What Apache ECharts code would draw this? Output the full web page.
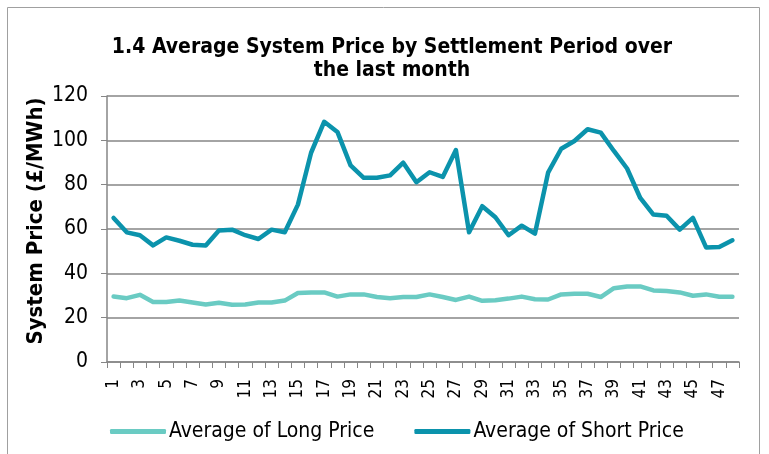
<!DOCTYPE html>
<html><head><meta charset="utf-8">
<script src="https://cdn.jsdelivr.net/npm/echarts@6/dist/echarts.min.js"></script>
<style>html,body{margin:0;padding:0;background:#fff}#c{width:769px;height:454px}</style>
</head><body><div id="c"></div>
<script>
const periods = Array.from({length:48},(_,i)=>String(i+1));
const longPrice = [29.5,28.8,30.3,27.1,27.1,27.7,26.8,25.9,26.7,25.8,25.9,26.8,26.8,27.7,31.1,31.4,31.4,29.5,30.5,30.5,29.3,28.8,29.3,29.3,30.5,29.3,28.0,29.5,27.6,27.9,28.6,29.5,28.3,28.2,30.5,30.8,30.8,29.3,33.3,34.1,34.1,32.3,32.0,31.4,29.9,30.5,29.4,29.4];
const shortPrice = [65,58.5,57.2,52.6,56.2,54.7,52.9,52.6,59.3,59.7,57.2,55.5,59.7,58.5,71,94.4,108.4,103.8,88.7,83.1,83.1,84.2,89.9,81.1,85.6,83.5,95.6,58.5,70.3,65.3,57.2,61.5,57.9,85.4,96.2,99.7,105,103.5,95.2,87.3,74,66.5,66,59.7,65,51.7,51.9,54.9];
const yTicks = {min:0, max:120, interval:20};
const chart = echarts.init(document.getElementById('c'), null, {renderer:'canvas'});
const font = 'Tahoma, "DejaVu Sans Condensed", "DejaVu Sans", sans-serif';
chart.setOption({
  animation:false,
  backgroundColor:'#fff',
  graphic:[{type:'rect', shape:{x:7.5,y:7.5,width:752,height:460}, style:{fill:'none', stroke:'#a0a0a0', lineWidth:1}}],
  title:{
    text:'1.4 Average System Price by Settlement Period over\nthe last month',
    left:387, textAlign:'center', top:31,
    textStyle:{fontFamily:font, fontWeight:'bold', fontSize:21, color:'#000', lineHeight:23}
  },
  grid:{left:107, right:30, top:96, bottom:92, containLabel:false},
  legend:{
    bottom:7, left:105, itemWidth:56, itemHeight:5, itemGap:40, icon:'roundRect',
    textStyle:{fontFamily:font, fontSize:21, color:'#000', padding:[0,0,0,-2]},
    data:['Average of Long Price','Average of Short Price']
  },
  xAxis:{
    type:'category', data:periods, boundaryGap:true,
    axisLine:{lineStyle:{color:'#868686', width:1.5}},
    axisTick:{show:true, interval:0, alignWithLabel:false, length:6, lineStyle:{color:'#868686'}},
    axisLabel:{interval:1, rotate:90, fontFamily:font, fontSize:17, color:'#000', margin:17}
  },
  yAxis:{
    type:'value', min:yTicks.min, max:yTicks.max, interval:yTicks.interval,
    name:'System Price (£/MWh)', nameLocation:'middle', nameGap:60, nameMoveOverlap:false,
    nameTextStyle:{fontFamily:font, fontWeight:'bold', fontSize:22, color:'#000', padding:[0,0,0,16]},
    axisLine:{show:true, lineStyle:{color:'#868686', width:1.5}},
    axisTick:{show:true, length:6, lineStyle:{color:'#868686'}},
    axisLabel:{fontFamily:font, fontSize:21, color:'#000', margin:19},
    splitLine:{lineStyle:{color:'#868686', width:1.5}}
  },
  series:[
    {name:'Average of Long Price', type:'line', data:longPrice, symbol:'none', smooth:false,
     lineStyle:{color:'#6ACBC3', width:4.5, cap:'round', join:'round'}, itemStyle:{color:'#6ACBC3'}},
    {name:'Average of Short Price', type:'line', data:shortPrice, symbol:'none',
     lineStyle:{color:'#0B93AC', width:4.5, cap:'round', join:'round'}, itemStyle:{color:'#0B93AC'}}
  ]
});
</script></body></html>
